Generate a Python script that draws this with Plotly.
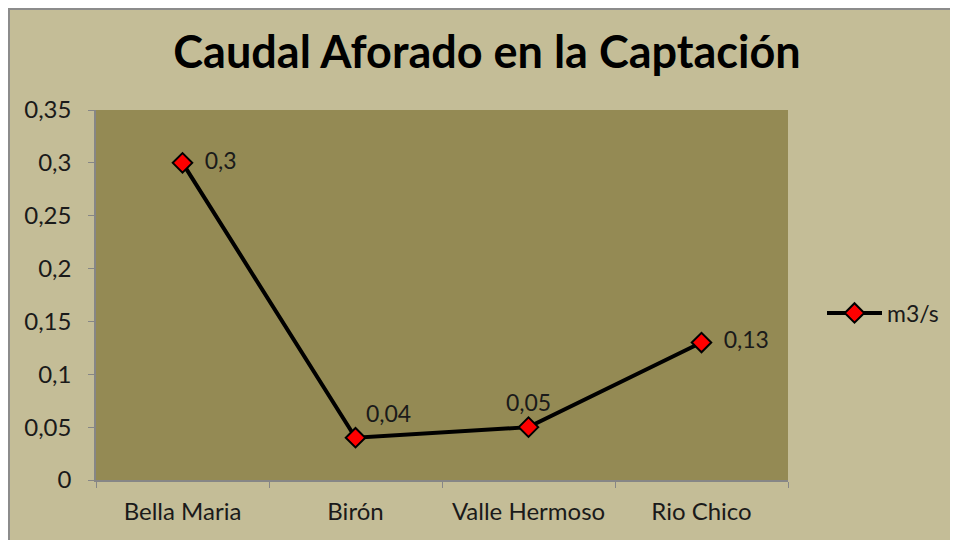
import plotly.graph_objects as go

categories = ["Bella Maria", "Birón", "Valle Hermoso", "Rio Chico"]
values = [0.3, 0.04, 0.05, 0.13]
value_labels = ["0,3", "0,04", "0,05", "0,13"]
label_positions = ["middle right", "top right", "top center", "middle right"]
label_pads = ["  ", "", "", "  "]
y_ticks = [0, 0.05, 0.1, 0.15, 0.2, 0.25, 0.3, 0.35]
y_tick_labels = ["0", "0,05", "0,1", "0,15", "0,2", "0,25", "0,3", "0,35"]

FONT = "Lato, Calibri, 'Open Sans', sans-serif"

fig = go.Figure()
fig.add_trace(go.Scatter(
    x=categories, y=values, mode="lines+markers+text", name="m3/s",
    text=[p + t for p, t in zip(label_pads, value_labels)], textposition=label_positions,
    textfont=dict(size=23, color="#1a1a1a", family=FONT),
    line=dict(color="black", width=4),
    marker=dict(symbol="diamond", size=15, color="#ff0000",
                line=dict(color="black", width=2)),
    cliponaxis=False,
))

OFF = 8  # page body margin
W, H = 958, 540
X0, X1, Y0, Y1 = 96, 788, 110, 480
L, T = X0 - OFF, Y0 - OFF
pw, ph = X1 - X0, Y1 - Y0
R, B = W - L - pw, H - T - ph

def px(x):
    return (x - X0) / pw

def py(y):
    return (Y1 - y) / ph

fig.update_layout(
    width=W, height=H,
    margin=dict(l=L, r=R, t=T, b=B),
    paper_bgcolor="#c4bd97",
    plot_bgcolor="#948a54",
    separators=",.",
    title=dict(text="<b>Caudal Aforado en la Captación</b>", x=(487 - OFF) / W, xanchor="center",
               y=1 - (52 - OFF) / H, yanchor="middle",
               font=dict(size=45, color="black", family=FONT)),
    showlegend=True,
    legend=dict(x=px(822), y=py(313), xanchor="left", yanchor="middle",
                bgcolor="rgba(0,0,0,0)", font=dict(size=23, color="#1a1a1a", family=FONT),
                itemwidth=55),
    xaxis=dict(type="category", range=[-0.5, 3.5], showgrid=False, zeroline=False,
               showline=True, linecolor="#868686", linewidth=1.5,
               ticks="outside", tickson="boundaries", ticklen=6, tickcolor="#868686",
               ticklabelstandoff=9,
               tickfont=dict(size=24, color="#1a1a1a", family=FONT)),
    yaxis=dict(range=[0, 0.35], tickvals=y_ticks, ticktext=y_tick_labels,
               showgrid=False, zeroline=False,
               showline=True, linecolor="#868686", linewidth=1.5,
               ticks="outside", ticklen=6, tickcolor="#868686",
               ticklabelstandoff=12,
               tickfont=dict(size=24, color="#1a1a1a", family=FONT)),
    shapes=[dict(type="rect", xref="paper", yref="paper",
                 x0=px(9), x1=px(1000), y0=py(9), y1=py(600),
                 line=dict(color="#8c8c8c", width=2), fillcolor="rgba(0,0,0,0)",
                 layer="below")],
)

fig.write_html("out.html")
